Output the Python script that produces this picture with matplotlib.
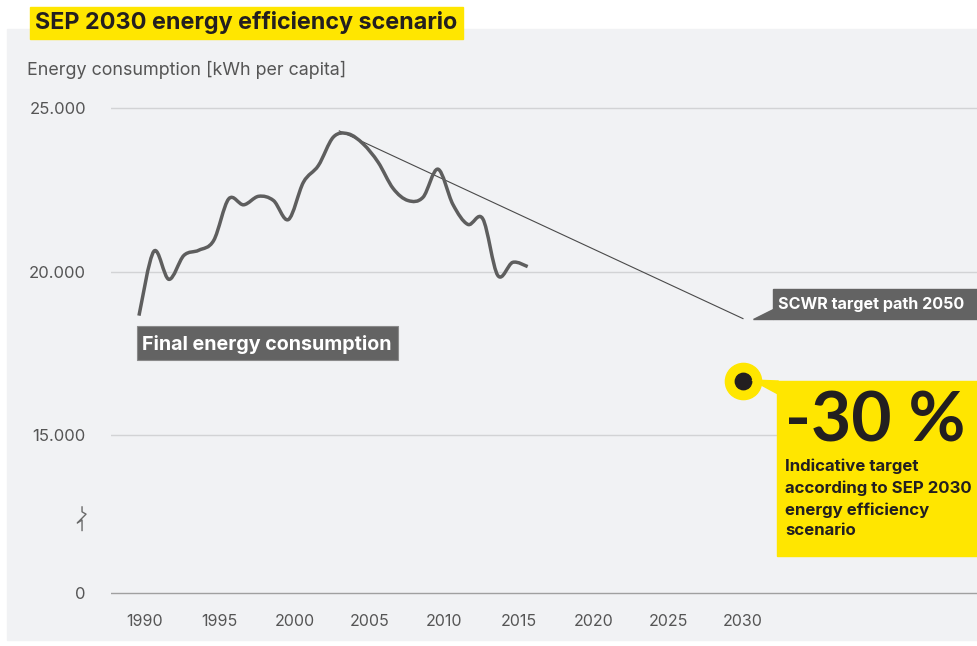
import matplotlib
matplotlib.use("Agg")
import matplotlib.pyplot as plt
from matplotlib.path import Path
from matplotlib.patches import PathPatch, Rectangle, Polygon
from matplotlib.transforms import Affine2D

# data
years = list(range(1990, 2017))
consumption = [18650, 20620, 19760, 20490, 20650, 20950, 22220, 22040, 22300, 22170,
               21590, 22730, 23240, 24110, 24210, 23900, 23340, 22540, 22170, 22270,
               23130, 22050, 21440, 21610, 19880, 20280, 20150]
trend_years = [2003, 2030]
trend_values = [24300, 18560]
target_year = 2030
target_value = 16640
xtick_years = [1990, 1995, 2000, 2005, 2010, 2015, 2020, 2025, 2030]
ytick_labels = ["0", "15.000", "20.000", "25.000"]
ytick_values = [10170, 15000, 20000, 25000]   # 0 sits below an axis break

plt.rcParams["font.family"] = ["Inter", "DejaVu Sans"]

W, H = 978, 646
fig = plt.figure(figsize=(W / 100, H / 100), dpi=100)
fig.patch.set_facecolor("white")
# pixel coords, origin top-left
pix = Affine2D().scale(1 / W, -1 / H).translate(0, 1) + fig.transFigure

GREY_BG = "#f1f2f4"
LINE = "#5e5e5e"
YELLOW = "#ffe600"
TXT = "#555555"
DARK = "#231f20"

fig.patches.append(Rectangle((7, 29), 990, 611, transform=pix, color=GREY_BG, zorder=-5))

# title
fig.patches.append(Rectangle((30, 7), 433, 32, transform=pix, color=YELLOW, zorder=1))
fig.text(35, 23, "SEP 2030 energy efficiency scenario", transform=pix, fontsize=16.8,
         fontweight="bold", color=DARK, va="center", ha="left")
fig.text(27, 70, "Energy consumption [kWh per capita]", transform=pix, fontsize=12.9,
         color=TXT, va="center", ha="left")

ax = fig.add_axes([111 / W, 1 - 600 / H, 867 / W, 500 / H])
ax.set_zorder(2)
ax.set_facecolor("none")
ax.set_xlim(1987.73, 2045.72)
ax.set_ylim(9954, 25245)
for s in ax.spines.values():
    s.set_visible(False)

for v in ytick_values:
    ax.axhline(v, color="#a0a0a0" if v == ytick_values[0] else "#d2d3d5", lw=1.0, zorder=1)

ax.set_yticks(ytick_values)
ax.set_yticklabels(ytick_labels)
ax.set_xticks(xtick_years)
ax.set_xticklabels([str(y) for y in xtick_years])
ax.tick_params(axis="y", length=0, pad=18, labelsize=12, labelcolor=TXT)
ax.tick_params(axis="x", length=0, pad=10, labelsize=11.5, labelcolor=TXT)

# smooth curve through the yearly values (Catmull-Rom as cubic Bezier)
xs = [y - 0.4 for y in years]
pts = list(zip(xs, consumption))
verts = [pts[0]]
codes = [Path.MOVETO]
n = len(pts)
for i in range(n - 1):
    p0 = pts[max(i - 1, 0)]
    p1 = pts[i]
    p2 = pts[i + 1]
    p3 = pts[min(i + 2, n - 1)]
    c1 = (p1[0] + (p2[0] - p0[0]) / 6, p1[1] + (p2[1] - p0[1]) / 6)
    c2 = (p2[0] - (p3[0] - p1[0]) / 6, p2[1] - (p3[1] - p1[1]) / 6)
    verts += [c1, c2, p2]
    codes += [Path.CURVE4] * 3
ax.add_patch(PathPatch(Path(verts, codes), fill=False, edgecolor=LINE, lw=2.5,
                       capstyle="butt", joinstyle="round", zorder=4))

ax.plot(trend_years, trend_values, color="#4a4a4a", lw=0.8, zorder=3)

# axis break mark
ax.plot([-0.0334, -0.0334, -0.0288, -0.0389, -0.0334, -0.0334],
        [12800, 12650, 12580, 12310, 12400, 12080],
        transform=ax.get_yaxis_transform(), color="#6a6a6a", lw=1.0, clip_on=False)

# target marker
ax.scatter([target_year], [target_value], s=680, color=YELLOW, zorder=5)
ax.scatter([target_year], [target_value], s=140, color=DARK, zorder=6)

# labels
fig.patches.append(Rectangle((137, 326), 261, 34, transform=pix, facecolor="#636363",
                             edgecolor="#8a8a8a", lw=0.8, zorder=5))
fig.text(142, 344, "Final energy consumption", transform=pix, fontsize=14.2,
         fontweight="bold", color="white", va="center", ha="left", zorder=6)

fig.patches.append(Polygon([(753, 319), (773, 319), (773, 309)], transform=pix,
                           color="#636363", zorder=5))
fig.patches.append(Rectangle((773, 289), 230, 30, transform=pix, color="#636363", zorder=5))
fig.text(778, 305, "SCWR target path 2050", transform=pix, fontsize=11.6,
         fontweight="bold", color="white", va="center", ha="left", zorder=6)

fig.patches.append(Polygon([(752, 380), (778, 381), (778, 394)], transform=pix,
                           color=YELLOW, zorder=4))
fig.patches.append(Rectangle((777, 381), 230, 175, transform=pix, color=YELLOW, zorder=4))
fig.text(785, 422, "-30 %", transform=pix, fontsize=50, fontweight="bold",
         family=["Lato", "DejaVu Sans"], color=DARK, va="center", ha="left", zorder=6)
fig.text(785, 459, "Indicative target\naccording to SEP 2030\nenergy efficiency\nscenario",
         transform=pix, fontsize=12.1, fontweight="bold", color=DARK, va="top", ha="left",
         linespacing=1.48, zorder=6)

fig.savefig("out.png", dpi=100)
